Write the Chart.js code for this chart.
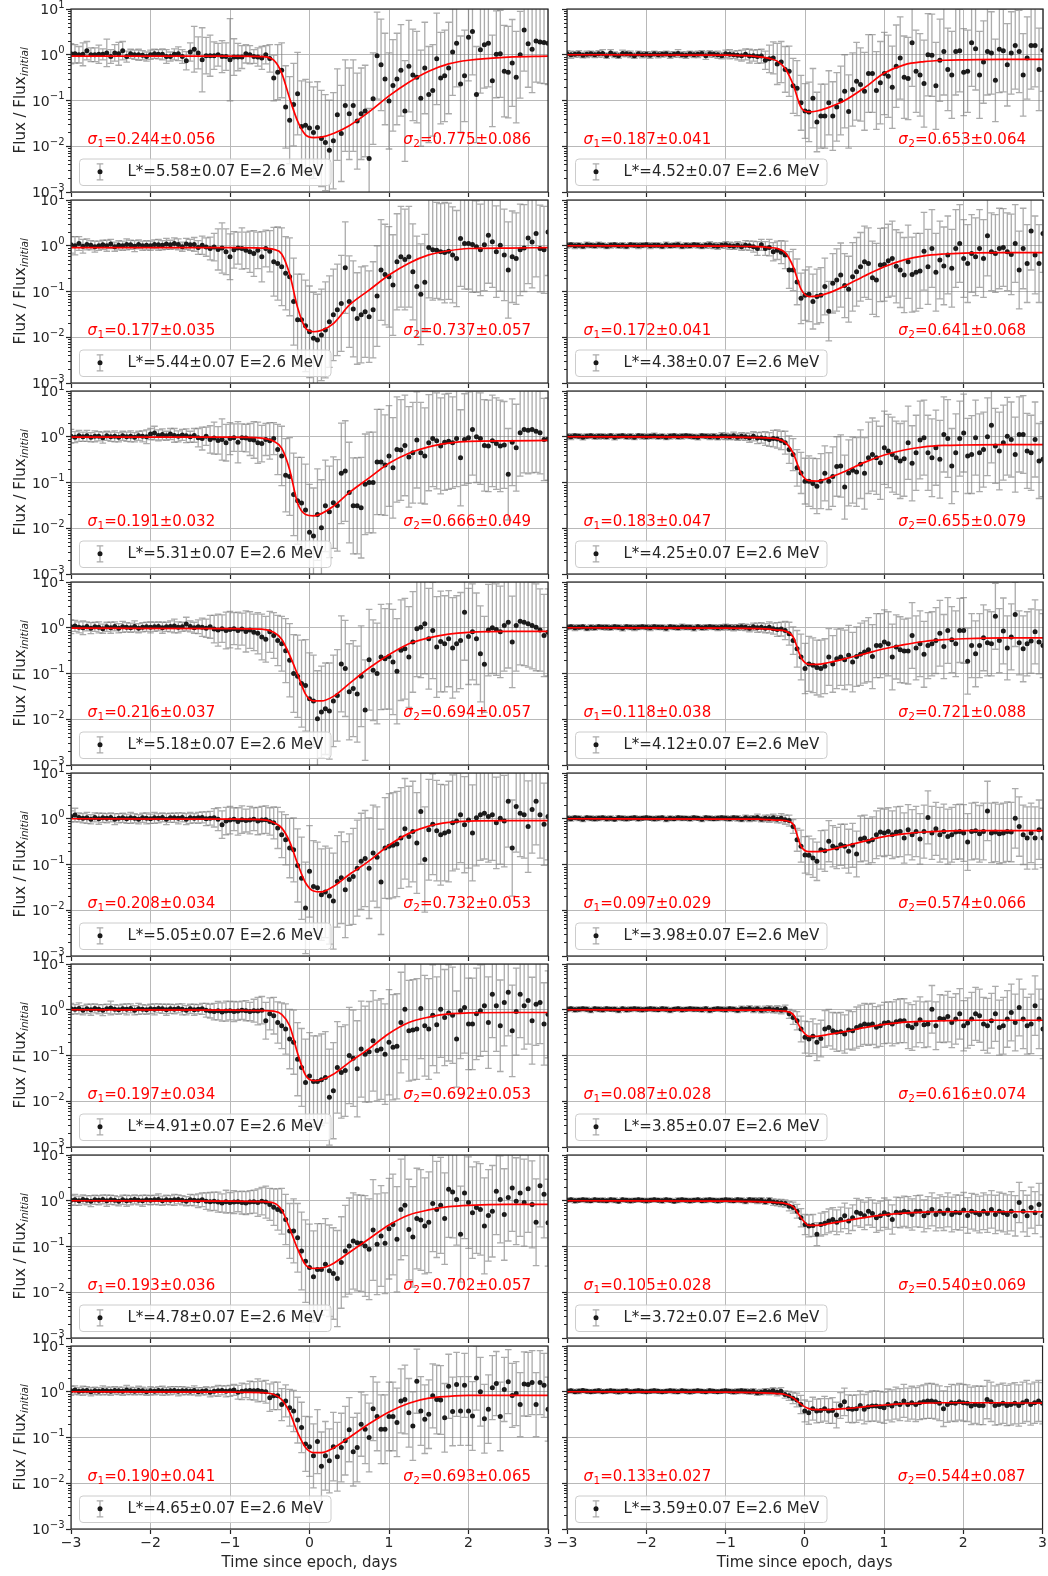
<!DOCTYPE html>
<html lang="en">
<head>
<meta charset="utf-8">
<title>Electron flux dropouts, 2.6 MeV, by L*</title>
<script src="https://cdn.jsdelivr.net/npm/chart.js@4.4.1/dist/chart.umd.min.js"></script>
<style>
  html, body { margin: 0; padding: 0; background: #fff; }
  body { width: 1048px; height: 1576px; position: relative; overflow: hidden; }
  canvas { position: absolute; }
</style>
</head>
<body>
<script>
// ---- sample times (days since epoch, 0.05-day cadence) ----
const days = [
  -3,-2.95,-2.9,-2.85,-2.8,-2.75,-2.7,-2.65,-2.6,-2.55,-2.5,-2.45,-2.4,-2.35,-2.3,-2.25,-2.2,-2.15,-2.1,-2.05,
  -2,-1.95,-1.9,-1.85,-1.8,-1.75,-1.7,-1.65,-1.6,-1.55,-1.5,-1.45,-1.4,-1.35,-1.3,-1.25,-1.2,-1.15,-1.1,-1.05,
  -1,-0.95,-0.9,-0.85,-0.8,-0.75,-0.7,-0.65,-0.6,-0.55,-0.5,-0.45,-0.4,-0.35,-0.3,-0.25,-0.2,-0.15,-0.1,-0.05,
  0,0.05,0.1,0.15,0.2,0.25,0.3,0.35,0.4,0.45,0.5,0.55,0.6,0.65,0.7,0.75,0.8,0.85,0.9,0.95,
  1,1.05,1.1,1.15,1.2,1.25,1.3,1.35,1.4,1.45,1.5,1.55,1.6,1.65,1.7,1.75,1.8,1.85,1.9,1.95,
  2,2.05,2.1,2.15,2.2,2.25,2.3,2.35,2.4,2.45,2.5,2.55,2.6,2.65,2.7,2.75,2.8,2.85,2.9,2.95,
  3];

// times at which each fitted profile is tabulated
const fitDays = [-3,-1,-0.6,-0.45,-0.35,-0.25,-0.15,-0.05,0.05,0.15,0.3,0.5,0.75,1,1.25,1.5,1.75,2,2.5,3];

// panel labels: left column first (top to bottom), then right column
const lstar = ['5.58','5.44','5.31','5.18','5.05','4.91','4.78','4.65','4.52','4.38','4.25','4.12','3.98','3.85','3.72','3.59'];
const sigma1 = ['0.244±0.056','0.177±0.035','0.191±0.032','0.216±0.037','0.208±0.034','0.197±0.034','0.193±0.036','0.190±0.041',
                '0.187±0.041','0.172±0.041','0.183±0.047','0.118±0.038','0.097±0.029','0.087±0.028','0.105±0.028','0.133±0.027'];
const sigma2 = ['0.775±0.086','0.737±0.057','0.666±0.049','0.694±0.057','0.732±0.053','0.692±0.053','0.702±0.057','0.693±0.065',
                '0.653±0.064','0.641±0.068','0.655±0.079','0.721±0.088','0.574±0.066','0.616±0.074','0.540±0.069','0.544±0.087'];

// ---- log10(flux / initial flux), log10 error half-width, log10 of fitted profile ----
// L* = 5.58
const lg558 = [
  .02,.02,0,.01,.09,0,0,.01,.01,.04,-.04,.04,.02,.09,-.04,.02,0,0,-.01,-.04,
  0,.02,.01,.01,-.04,-.04,.01,.02,-.04,-.13,.06,.12,.04,-.11,-.02,-.02,-.02,0,-.04,-.04,
  -.11,-.05,-.05,-.05,.02,0,-.04,-.05,-.07,0,-.08,-.51,-.38,-.34,-1.14,-1.43,-1.09,-.85,-1.57,-1.54,
  -1.6,-1.7,-1.59,-1.83,-1.92,-2.09,-1.88,-1.31,-1.72,-1.11,-1.29,-1.11,-1.45,-1.29,-1.23,-2.27,-.96,-.02,-.22,-.53,
  -1.01,-.67,-.53,-.34,-1.23,-.25,-.44,-.49,-.95,-.29,-.87,-.78,-.09,-.51,-.46,-.29,.06,.25,-.64,-.46,
  .38,.51,-.87,.11,.22,.25,-.57,.01,.02,-.36,-.38,-.18,-.49,0,.54,.24,.12,.3,.28,.27,
  .25];
const er558 = [
  .22,.2,.18,.25,.2,.15,.15,.2,.12,.3,.15,.18,.25,.2,.12,.1,.1,.12,.1,.1,
  .1,.1,.1,.12,.15,.1,.12,.15,.15,.2,.2,.5,.35,.7,.4,.45,.3,.25,.35,.3,
  .9,.4,.3,.25,.2,.2,.15,.2,.25,.2,.3,.5,.6,.6,.9,.95,.9,.9,1,1,
  1,1,1,1.05,1.05,1.1,1.05,1,1.05,1,1,1,1.05,1,1,1.1,1,.95,1,1,
  1.05,1,1,1,1.1,1,1,1,1.05,1,1.05,1,1,1,1,1,.95,.95,1.05,1,
  .95,.95,1.05,.95,.95,.95,1,.95,.95,1,1,.95,1,.95,.9,.95,.95,.9,.9,.9,
  .9];
const fit558 = [-.03,-.03,-.04,-.12,-.4,-.95,-1.45,-1.75,-1.81,-1.8,-1.72,-1.55,-1.25,-.9,-.6,-.36,-.2,-.12,-.05,-.03];

// L* = 5.44
const lg544 = [
  .02,0,.05,-.01,.03,.01,-.02,0,.02,0,.04,-.02,.01,0,.03,.02,-.01,.03,0,.01,
  0,.03,.02,.01,.04,.02,.05,.03,-.02,.04,.02,.03,-.04,.01,-.03,-.06,-.03,-.08,-.05,-.13,
  -.24,-.09,-.05,-.06,-.1,-.13,-.17,-.1,-.24,-.06,-.12,-.35,-.39,-.46,-.6,-.68,-1.22,-1.62,-1.62,-1.75,
  -1.88,-2.02,-2.06,-1.95,-1.84,-1.66,-1.51,-1.4,-1.26,-.48,-1.22,-1.38,-1.59,-1.51,-1.44,-1.55,-1.4,-1.1,-.53,-.63,
  -.68,-.86,-.35,-.24,-.3,-.24,-.57,-.89,-1.06,-.8,-.04,-.09,-.1,-.13,-.15,-.12,-.2,-.28,.16,.05,
  .05,.03,-.02,-.09,.02,.23,.09,-.13,.01,-.2,-.53,-.24,-.28,-.09,-.05,.17,.08,.27,-.06,-.09,
  .3];
const er544 = [
  .18,.2,.15,.15,.12,.1,.12,.1,.1,.12,.1,.1,.1,.1,.12,.1,.12,.1,.1,.1,
  .1,.1,.12,.1,.12,.1,.12,.12,.1,.12,.12,.15,.15,.2,.2,.25,.3,.45,.55,.5,
  .5,.4,.35,.45,.4,.45,.5,.4,.55,.4,.45,.75,.8,.85,.8,.85,.95,1,1,1,
  1,1,1,1,1.05,1,1,1,1.05,1,1,1.05,1,1.05,1,1,1.05,1.1,1.1,1.1,
  1.1,1.1,1.05,1.1,1.1,1.1,1.05,1.1,1.1,1.05,1.1,1.1,1.05,1.05,1.1,1.05,1.05,1.05,1.05,1,
  1,1.05,1,1,1,1.05,1,1,1,1,1.05,1,1,1,.95,1,1,.95,.95,.95,
  .95];
const fit544 = [-.04,-.04,-.05,-.08,-.18,-.62,-1.35,-1.8,-1.88,-1.85,-1.7,-1.3,-.97,-.64,-.38,-.2,-.11,-.06,-.05,-.04];

// L* = 5.31
const lg531 = [
  .01,-.01,.02,0,.02,-.01,.01,.01,-.02,.02,0,.01,-.01,.02,0,.01,-.01,.02,.01,0,
  .06,.08,.03,.05,.02,.06,.03,.01,.04,.02,0,.03,-.02,-.04,.01,-.06,-.03,-.08,-.06,-.13,
  -.04,-.02,-.12,-.02,-.03,-.06,-.07,-.13,-.15,-.06,-.09,-.04,-.28,-.42,-.84,-.87,-1.26,-1.4,-1.45,-1.6,
  -2.09,-2.17,-1.7,-1.99,-1.51,-1.64,-1.44,-1.5,-.8,-.75,-1.22,-1.51,-1.51,-1.55,-1.04,-1,-1,-.55,-.55,-.62,
  -.42,-.68,-.28,-.29,-.19,-.44,-.35,-.07,-.35,-.42,-.13,-.04,-.09,-.2,-.12,-.1,-.13,-.04,-.46,-.06,
  -.02,.16,0,-.04,-.19,-.2,-.09,-.15,-.2,-.18,-.82,-.12,-.24,.09,.16,.14,.16,.12,.09,-.06,
  -.05];
const er531 = [
  .15,.12,.12,.1,.12,.1,.12,.1,.12,.1,.1,.12,.1,.1,.1,.12,.1,.1,.12,.15,
  .12,.15,.12,.12,.1,.12,.15,.12,.12,.15,.12,.15,.2,.25,.2,.3,.35,.3,.45,.4,
  .35,.3,.45,.3,.3,.35,.4,.45,.4,.35,.4,.35,.55,.65,.8,.85,.9,.95,1,1,
  1.05,1.05,1,1.05,1,1,1,1,1.1,1.1,1.1,1.05,1.05,1.1,1.1,1.1,1.1,1.15,1.15,1.1,
  1.1,1.1,1.15,1.1,1.1,1.1,1.1,1.05,1.1,1.05,1.05,1.05,1.05,1.05,1.05,1.05,1,1.05,1.05,1,
  1,1,1,1,1,1,1,1,1,.95,1,.95,.95,.95,.95,.95,.95,.9,.9,.9,
  .9];
const fit531 = [-.01,-.01,-.03,-.1,-.25,-.72,-1.45,-1.7,-1.73,-1.68,-1.52,-1.22,-.9,-.58,-.36,-.22,-.14,-.1,-.09,-.08];

// L* = 5.18
const lg518 = [
  .02,.04,.01,0,.03,-.01,.02,.01,-.02,.02,0,.03,-.01,.02,.01,0,.03,-.01,.01,.02,
  .01,.02,.03,0,.02,.03,.04,.01,.02,.08,.03,0,.02,.01,-.01,.02,-.03,-.05,-.02,-.06,
  -.04,-.02,-.06,-.03,-.08,-.05,-.1,-.12,-.2,-.25,-.09,-.17,-.28,-.35,-.5,-.71,-1,-1.06,-1.22,-1.26,
  -1.55,-1.6,-1.99,-1.84,-1.77,-1.82,-1.6,-1.48,-.79,-.89,-1.4,-1.33,-1.45,-1.06,-1.8,-.7,-.93,-1,-.64,-.68,
  -.63,-.75,-.95,-.49,-.46,-.64,-.31,-.02,.01,.09,-.24,-.06,-.42,-.3,-.35,-.24,-.44,-.35,-.28,.34,
  -.19,-.09,-.24,-.57,-.8,-.05,0,-.04,-.09,.05,.12,-.31,.05,.14,.12,.09,.05,.01,-.05,-.17,
  -.1];
const er518 = [
  .15,.12,.12,.15,.1,.12,.1,.12,.1,.1,.12,.1,.1,.12,.1,.1,.12,.1,.1,.1,
  .12,.1,.1,.12,.1,.12,.15,.12,.1,.15,.12,.12,.15,.2,.2,.25,.3,.35,.3,.4,
  .4,.35,.4,.35,.45,.4,.4,.45,.5,.5,.45,.5,.55,.6,.7,.8,.85,.9,.95,1,
  1,1,1.05,1,1,1.05,1,1,1.05,1.05,1.05,1.05,1.05,1.1,1.1,1.1,1.1,1.1,1.15,1.1,
  1.15,1.15,1.15,1.1,1.1,1.1,1.1,1.05,1.1,1.1,1.1,1.05,1.1,1.1,1.05,1.05,1.1,1.05,1.05,1.05,
  1.05,1.05,1,1.05,1.05,1,1,1,1,1,1,1,1,.95,.95,.95,.95,.95,.9,.9,
  .95];
const fit518 = [-.01,-.02,-.03,-.1,-.25,-.6,-1.02,-1.45,-1.6,-1.6,-1.5,-1.22,-.88,-.59,-.35,-.22,-.14,-.1,-.08,-.08];

// L* = 5.05
const lg505 = [
  .05,.08,.03,.01,.02,-.01,.03,0,.02,.01,.03,-.01,.01,.02,0,.02,.01,-.01,.02,.01,
  0,.02,.01,.03,-.01,.02,.02,.01,.03,-.01,.02,.01,.02,.03,0,.01,.02,-.01,-.13,-.05,
  -.03,-.01,-.06,-.02,-.04,-.03,-.01,-.05,-.03,-.02,-.06,-.09,-.2,-.35,-.46,-.64,-.68,-1.02,-1.3,-1.95,
  -1.15,-1.48,-1.51,-1.66,-1.6,-1.69,-1.8,-1.37,-1.29,-1.55,-1.33,-1.26,-1.08,-.93,-.87,-1.08,-.75,-.84,-1.38,-.64,
  -.6,-.58,-.55,-.42,-.22,-.39,-.28,-.53,.16,-.89,-.24,-.12,-.26,-.35,-.31,-.28,-.09,-.05,.09,-.13,
  -.03,-.31,.02,.09,.12,.05,.09,-.09,.01,-.05,.38,-.64,.27,.12,.09,-.17,.2,.38,.09,-.12,
  .05];
const er505 = [
  .12,.15,.1,.1,.12,.1,.1,.12,.1,.1,.1,.12,.1,.1,.1,.12,.1,.1,.1,.12,
  .1,.12,.1,.1,.12,.1,.1,.12,.1,.12,.12,.1,.12,.12,.15,.15,.2,.25,.3,.3,
  .3,.25,.3,.3,.25,.3,.25,.3,.3,.3,.3,.35,.45,.5,.55,.65,.7,.8,.9,1,
  1,1,1,1,1,1.05,1.05,1,1,1.05,1,1.05,1.05,1.05,1.05,1.1,1.05,1.1,1.15,1.1,
  1.15,1.15,1.15,1.1,1.1,1.1,1.1,1.1,1.15,1.15,1.1,1.1,1.1,1.1,1.05,1.1,1.05,1.05,1.05,1.05,
  1.05,1.05,1.05,1,1,1,1,1,1,1,1,1.05,1,.95,.95,1,.95,.95,.95,.9,
  .95];
const fit505 = [0,-.01,-.02,-.08,-.2,-.5,-.98,-1.4,-1.58,-1.6,-1.48,-1.22,-.92,-.58,-.32,-.16,-.08,-.05,-.04,-.04];

// L* = 4.91
const lg491 = [
  .02,.01,.03,-.01,.02,0,.03,.01,-.01,.02,.04,.01,0,.02,.01,.03,-.01,.02,.01,0,
  .02,.01,.03,.02,0,.02,.01,.03,.01,-.01,.02,0,.01,.02,-.01,-.03,-.04,-.02,-.05,-.03,
  -.02,-.04,-.03,-.01,-.02,-.04,-.02,-.03,-.01,-.24,-.09,-.13,-.28,-.35,-.42,-.64,-.71,-1.08,-1.26,-1.59,
  -1.45,-1.57,-1.57,-1.53,-1.48,-1.91,-1.77,-1.26,-1.37,-1.33,-1,-1.06,-1.29,-.86,-.97,-.92,-.68,-.89,-.86,-.97,
  -.71,-.82,-.8,-.28,.01,-.46,-.44,-.42,.03,-.35,-.42,-.12,-.33,.01,-.17,-.07,-.12,-.64,-.02,.05,
  -.31,-.31,-.09,-.02,.09,-.28,.34,.09,-.35,.16,.38,-.46,-.04,.34,.09,.2,-.24,.12,.16,-.31,
  -.1];
const er491 = [
  .12,.1,.12,.1,.1,.12,.1,.1,.12,.1,.15,.1,.1,.1,.12,.1,.1,.12,.1,.1,
  .1,.12,.1,.1,.12,.1,.1,.1,.12,.1,.1,.12,.1,.12,.15,.15,.18,.2,.2,.22,
  .2,.22,.2,.2,.22,.2,.25,.3,.3,.4,.35,.4,.45,.5,.55,.65,.7,.8,.85,.95,
  .95,1,1,1,1,1.05,1.05,1,1,1,1.05,1.05,1.05,1.05,1.05,1.1,1.1,1.1,1.1,1.1,
  1.15,1.15,1.15,1.1,1.1,1.1,1.1,1.1,1.1,1.1,1.1,1.1,1.05,1.05,1.05,1.05,1.05,1.05,1.05,1,
  1,1,1,1,1,1,.95,1,1,.95,.95,1,.95,.95,.95,.95,.95,.9,.9,.9,
  .95];
const fit491 = [0,-.01,-.02,-.03,-.1,-.35,-.95,-1.43,-1.55,-1.53,-1.41,-1.15,-.85,-.52,-.28,-.16,-.09,-.07,-.06,-.06];

// L* = 4.78
const lg478 = [
  .01,.02,0,.03,.01,-.01,.02,.01,.03,0,.02,.01,-.01,.02,0,.01,.03,.01,0,.02,
  .01,.02,.03,0,.02,.01,.02,.03,.01,-.01,.02,.01,0,.02,-.01,-.02,-.01,-.03,-.05,-.02,
  -.04,-.03,-.02,-.04,-.05,-.03,-.02,-.04,-.01,-.03,-.08,-.14,-.19,-.23,-.41,-.66,-.66,-.81,-1.1,-1.32,
  -1.46,-1.66,-1.5,-1.5,-1.39,-1.53,-1.59,-1.7,-1.35,-1.1,-.99,-.88,-.92,-.93,-.99,-1.06,-.64,-.95,-.77,-.93,
  -.61,-.52,-.84,-.19,-.1,-.63,-.79,-.39,-.42,-.55,-.47,-.06,-.19,-.1,-.39,.25,.19,.03,-.73,.17,
  -.04,-.26,-.15,-.19,-.55,-.32,-.23,.21,.03,-.3,.07,.28,-.01,.17,-.04,.26,-.08,-.47,.33,.14,
  -.48];
const er478 = [
  .1,.12,.1,.1,.1,.12,.1,.1,.1,.12,.1,.1,.1,.1,.12,.1,.1,.1,.12,.1,
  .1,.1,.12,.1,.1,.1,.12,.1,.1,.1,.12,.12,.15,.15,.18,.2,.2,.22,.2,.25,
  .22,.25,.22,.25,.25,.25,.25,.3,.3,.35,.35,.4,.45,.5,.55,.6,.7,.75,.85,.9,
  .95,1,1,1,1,1,1,1.05,1,1,1.05,1.05,1.05,1.05,1.1,1.1,1.1,1.1,1.1,1.1,
  1.1,1.1,1.15,1.1,1.1,1.1,1.1,1.1,1.1,1.05,1.1,1.05,1.05,1.05,1,1.05,1,1,1.05,1,
  1,1,1,1,1.05,1,1,.95,.95,1,.95,.95,.95,.95,.95,.95,.95,.95,.9,.95,
  .95];
const fit478 = [0,-.01,-.02,-.05,-.2,-.6,-1.05,-1.4,-1.48,-1.47,-1.37,-1.13,-.83,-.53,-.31,-.2,-.13,-.1,-.08,-.08];

// L* = 4.65
const lg465 = [
  .02,.04,.01,.02,.03,0,.02,.01,.03,.02,.01,.03,.02,.01,.04,.02,.01,.03,.02,0,
  .02,.01,.03,.02,.01,.02,.03,.01,.02,.02,.01,.03,0,.01,.02,-.01,.01,.02,.03,.01,
  .02,.04,-.01,.01,.02,.03,.02,.03,.01,0,-.13,-.09,-.09,-.28,-.2,-.35,-.42,-.62,-.78,-1.14,
  -1.2,-1.4,-1.09,-1.63,-1.4,-1.51,-1.2,-1.42,-1.22,-1.07,-.83,-1.31,-1.22,-.71,-.82,-1,-.37,-.54,-.82,-.82,
  -.54,-.54,-.67,-.2,-.17,-.46,-.75,.23,-.42,-.6,-.49,-.09,-.17,-.18,-.57,.12,-.43,.16,-.42,.14,
  -.42,-.53,.3,0,-.59,-.38,.09,.18,-.54,.05,.22,-.08,-.04,-.28,.17,.16,.2,-.28,.2,.14,
  -.38];
const er465 = [
  .1,.09,.08,.1,.08,.09,.08,.08,.1,.08,.09,.08,.08,.09,.1,.08,.08,.09,.08,.08,
  .09,.08,.08,.1,.08,.09,.08,.1,.09,.08,.08,.1,.09,.08,.09,.1,.1,.12,.1,.12,
  .12,.12,.15,.18,.15,.2,.2,.25,.22,.25,.3,.3,.3,.35,.35,.4,.45,.5,.55,.6,
  .65,.7,.7,.75,.75,.7,.75,.75,.75,.75,.7,.75,.75,.7,.75,.75,.7,.75,.75,.75,
  .75,.75,.75,.7,.75,.75,.75,.7,.75,.75,.75,.7,.75,.75,.75,.7,.75,.7,.75,.7,
  .75,.75,.7,.75,.75,.75,.7,.7,.75,.7,.7,.7,.7,.7,.7,.7,.7,.7,.7,.7,
  .7];
const fit465 = [0,-.01,-.02,-.06,-.17,-.45,-.89,-1.22,-1.33,-1.33,-1.23,-1,-.7,-.44,-.25,-.14,-.1,-.08,-.08,-.08];

// L* = 4.52
const lg452 = [
  .02,0,.01,.02,-.01,.01,.02,0,.02,.03,-.02,.04,0,-.02,.03,.02,.01,-.02,.02,0,
  .01,-.01,.02,0,.01,.02,-.01,.01,.03,0,-.01,.02,0,.01,.03,-.02,.02,.01,0,-.02,
  .02,.01,0,-.01,-.02,.01,-.03,-.02,-.04,-.03,-.12,-.09,-.07,-.2,-.16,-.32,-.36,-.68,-.73,-1.05,
  -1.23,-1.25,-.95,-1.47,-1.34,-1.34,-1.05,-1.34,-1.14,-1,-.8,-1.24,-.76,-.58,-.65,-.8,-.41,-.41,-.78,-.61,
  -.41,-.47,-.71,-.25,-.07,-.49,-.52,.26,-.36,-.44,-.63,0,-.01,-.68,-.12,.07,-.32,-.44,.07,.09,
  -.38,-.36,.26,.13,-.44,-.16,.07,.04,-.56,.12,.09,-.22,.04,.2,.07,-.44,-.07,.2,.2,-.32,
  .1];
const er452 = [
  .07,.08,.06,.07,.06,.07,.06,.06,.07,.08,.06,.07,.06,.06,.07,.06,.07,.06,.06,.07,
  .06,.07,.06,.07,.06,.06,.07,.06,.08,.06,.07,.06,.06,.07,.06,.08,.07,.06,.08,.07,
  .08,.1,.08,.1,.12,.12,.15,.12,.15,.15,.2,.3,.35,.45,.45,.5,.55,.6,.6,.6,
  .6,.65,.65,.65,.7,.7,.7,.75,.75,.75,.8,.8,.8,.85,.8,.85,.85,.85,.85,.9,
  .9,.9,.9,.9,.9,.9,.9,.95,.9,.9,.95,.9,.9,.95,.9,.95,.9,.95,.95,.9,
  .95,.9,.95,.9,.95,.9,.95,.9,.9,.95,.9,.9,.9,.95,.9,.9,.9,.95,.9,.9,
  .9];
const fit452 = [0,-.01,-.04,-.08,-.14,-.3,-.65,-1.15,-1.25,-1.23,-1.15,-1,-.72,-.4,-.22,-.15,-.12,-.11,-.1,-.1];

// L* = 4.38
const lg438 = [
  .01,.02,0,.01,-.01,.02,.01,0,.02,.01,-.01,.01,.02,0,.01,-.01,.02,.01,0,.01,
  .02,0,.01,.01,-.01,.02,0,.01,.02,-.01,.01,0,.02,.01,-.01,.01,.02,0,-.01,.01,
  .02,0,-.01,.01,-.02,.01,0,-.02,-.06,.02,-.06,-.04,-.13,-.1,-.14,-.2,-.53,-.53,-.79,-1.15,
  -1.08,-1.06,-1.22,-1.11,-1.08,-.89,-1.43,-.82,-.75,-.64,-.87,-.95,-.68,-.57,-.46,-.35,-.39,-.7,-.75,-.42,
  -.41,-.33,-.28,-.45,-.53,-.64,-.35,-.63,-.58,-.55,-.12,-.46,-.06,-.58,-.31,-.44,-.2,-.49,-.06,.05,
  -.28,-.39,-.17,-.24,-.06,-.28,.22,-.13,-.17,-.06,-.04,-.13,-.19,.05,-.53,-.06,-.39,.32,-.2,-.39,
  .27];
const er438 = [
  .06,.05,.06,.05,.05,.06,.05,.05,.06,.05,.05,.06,.05,.05,.06,.05,.05,.05,.06,.05,
  .05,.06,.05,.05,.05,.06,.05,.05,.06,.05,.06,.05,.05,.06,.05,.06,.07,.06,.07,.06,
  .07,.08,.07,.08,.08,.1,.1,.12,.15,.12,.15,.18,.2,.2,.25,.3,.4,.45,.5,.55,
  .55,.6,.6,.6,.6,.62,.65,.65,.68,.7,.7,.72,.75,.75,.75,.78,.78,.8,.8,.8,
  .8,.8,.82,.8,.82,.82,.8,.82,.85,.82,.85,.82,.85,.85,.85,.85,.85,.85,.85,.85,
  .85,.85,.85,.85,.85,.85,.88,.85,.85,.88,.85,.85,.88,.85,.85,.88,.85,.85,.85,.85,
  .85];
const fit438 = [0,-.01,-.02,-.04,-.06,-.15,-.45,-.95,-1.11,-1.1,-1.03,-.88,-.66,-.46,-.31,-.22,-.18,-.16,-.15,-.15];

// L* = 4.25
const lg425 = [
  .01,0,.02,.01,-.01,.01,.02,0,.01,.01,0,.02,-.01,.01,.02,0,.01,-.01,.02,.01,
  0,.01,.02,0,.01,-.01,.01,.02,0,.01,.02,.01,0,-.01,.02,.01,0,.01,-.01,.02,
  .01,0,.02,-.01,.01,0,-.02,.01,-.03,-.02,-.04,-.06,-.04,-.05,-.08,-.13,-.28,-.39,-.68,-.79,
  -.97,-.97,-1.02,-1.08,-.97,-.8,-.97,-.87,-.65,-.64,-1.1,-.79,-.73,-.77,-.6,-.8,-.46,-.39,-.46,-.57,
  -.24,-.31,-.39,-.46,-.53,-.48,-.13,-.58,-.35,-.07,-.02,-.35,-.46,-.24,-.49,.05,-.04,-.64,-.35,-.04,
  .08,-.42,-.39,-.02,-.35,-.28,0,.25,-.2,-.31,-.13,.01,-.06,-.39,.05,.05,-.31,-.35,-.06,-.53,
  -.49];
const er425 = [
  .05,.06,.05,.05,.06,.05,.05,.05,.06,.05,.05,.05,.06,.05,.05,.05,.06,.05,.05,.06,
  .05,.05,.06,.05,.05,.05,.06,.05,.05,.06,.05,.05,.05,.06,.05,.05,.06,.06,.06,.07,
  .07,.06,.08,.07,.08,.08,.1,.1,.12,.12,.15,.15,.18,.2,.2,.25,.3,.35,.4,.45,
  .5,.55,.55,.6,.6,.6,.62,.65,.65,.68,.7,.72,.72,.75,.75,.78,.78,.8,.8,.8,
  .8,.8,.82,.8,.82,.82,.8,.82,.82,.85,.82,.82,.85,.82,.85,.82,.85,.82,.85,.82,
  .85,.82,.85,.82,.85,.82,.85,.82,.82,.85,.82,.85,.82,.82,.82,.85,.82,.82,.82,.82,
  .82];
const fit425 = [0,-.01,-.02,-.03,-.05,-.12,-.35,-.8,-.96,-.97,-.9,-.76,-.56,-.4,-.29,-.22,-.19,-.18,-.17,-.17];

// L* = 4.12
const lg412 = [
  .01,.02,0,.01,.02,-.01,.01,0,.02,.01,.01,0,.02,.01,-.01,.02,.01,0,.01,.02,
  .01,0,.02,.01,.01,-.01,.02,.01,0,.02,.01,.01,-.01,.02,0,.01,.02,.01,0,.01,
  .02,.01,0,.01,.02,.01,-.01,.02,0,.01,-.01,.01,-.02,-.04,-.03,-.06,-.13,-.28,-.46,-.64,
  -.89,-.79,-.82,-.87,-.89,-.84,-.64,-.79,-.68,-.64,-.7,-.6,-.75,-.63,-.58,-.53,-.48,-.63,-.39,-.39,
  -.31,-.35,-.64,-.42,-.48,-.51,-.51,-.17,-.44,-.35,-.58,-.39,-.35,-.28,-.12,-.41,-.06,-.26,-.35,-.06,
  -.06,-.73,-.39,-.57,-.39,-.22,-.33,-.35,.25,-.28,-.07,-.44,-.2,.29,-.33,-.46,-.35,-.29,-.09,-.31,
  -.39];
const er412 = [
  .05,.05,.06,.05,.05,.05,.06,.05,.05,.05,.06,.05,.05,.05,.06,.05,.05,.06,.05,.05,
  .05,.06,.05,.05,.05,.06,.05,.05,.05,.06,.05,.05,.06,.05,.05,.06,.05,.05,.06,.06,
  .06,.06,.07,.06,.07,.07,.08,.08,.1,.1,.1,.12,.12,.15,.15,.2,.25,.3,.4,.5,
  .55,.6,.6,.6,.62,.6,.62,.62,.65,.62,.65,.65,.65,.65,.68,.68,.7,.7,.7,.7,
  .7,.7,.72,.7,.72,.7,.72,.72,.7,.72,.72,.72,.7,.72,.72,.7,.72,.72,.72,.7,
  .72,.72,.7,.72,.7,.72,.72,.7,.72,.7,.72,.7,.72,.7,.7,.72,.7,.7,.7,.7,
  .7];
const fit412 = [0,-.01,-.02,-.03,-.05,-.07,-.2,-.65,-.8,-.8,-.76,-.68,-.57,-.46,-.37,-.3,-.26,-.24,-.22,-.22];

// L* = 3.98
const lg398 = [
  .01,0,.02,.01,-.01,.02,.01,0,.01,.02,0,.01,-.01,.02,.01,0,.01,.02,0,.01,
  .02,.01,0,.01,.02,-.01,.01,0,.02,.01,.01,0,.02,.01,-.01,.02,.01,0,.01,.02,
  .01,0,.02,.01,-.01,.02,0,.01,.03,-.01,.01,0,.02,-.01,.01,-.02,-.04,-.17,-.46,-.6,
  -.79,-.8,-.86,-.93,-.68,-.7,-.49,-.6,-.64,-.57,-.6,-.71,-.58,-.77,-.44,-.42,-.49,-.46,-.35,-.29,
  -.31,-.28,-.35,-.29,-.28,-.42,-.24,-.35,-.28,-.44,-.28,.03,-.31,-.22,-.35,-.28,-.39,-.35,-.29,-.28,
  -.31,-.51,-.28,-.26,-.33,-.28,.17,-.31,-.29,-.33,-.31,-.28,-.29,.01,-.17,-.35,-.42,-.31,-.42,-.24,
  -.42];
const er398 = [
  .05,.05,.04,.05,.05,.04,.05,.05,.05,.04,.05,.05,.04,.05,.05,.05,.04,.05,.05,.04,
  .05,.04,.05,.05,.04,.05,.05,.04,.05,.05,.04,.05,.05,.04,.05,.05,.05,.04,.05,.05,
  .05,.05,.05,.06,.05,.06,.06,.06,.07,.06,.07,.08,.08,.08,.1,.1,.12,.15,.25,.35,
  .4,.42,.42,.42,.42,.45,.45,.45,.45,.45,.48,.48,.48,.5,.5,.5,.5,.5,.52,.52,
  .52,.52,.52,.55,.55,.55,.55,.55,.55,.55,.58,.58,.58,.58,.6,.6,.6,.6,.6,.6,
  .62,.62,.62,.62,.62,.62,.65,.65,.65,.65,.65,.65,.65,.65,.65,.65,.68,.65,.68,.65,
  .65];
const fit398 = [0,-.01,-.01,-.02,-.03,-.04,-.12,-.6,-.72,-.72,-.68,-.6,-.49,-.39,-.33,-.29,-.27,-.26,-.26,-.26];

// L* = 3.85
const lg385 = [
  .01,.02,0,.01,.02,.01,-.01,.02,.01,0,.02,.01,.01,-.01,.02,0,.01,.02,.01,0,
  .01,.02,.01,0,.02,.01,-.01,.01,.02,0,.01,.02,.01,.01,0,.02,-.01,.01,.02,.01,
  0,.02,.01,-.01,.02,.01,.03,0,.02,-.01,.01,.02,0,.01,-.01,.02,-.09,-.17,-.24,-.42,
  -.6,-.64,-.58,-.71,-.63,-.42,-.39,-.46,-.49,-.48,-.53,-.44,-.46,-.39,-.35,-.31,-.33,-.31,-.38,-.35,
  -.29,-.28,-.31,-.26,-.24,-.24,-.35,-.39,-.31,-.22,-.33,-.31,.01,-.35,-.19,-.2,-.15,-.28,-.2,-.09,
  -.35,-.29,-.2,-.09,-.13,-.31,-.35,-.24,-.09,-.39,-.35,-.2,-.06,-.28,.05,-.2,-.35,-.31,.09,-.2,
  -.42];
const er385 = [
  .05,.04,.05,.05,.04,.05,.05,.04,.05,.05,.05,.04,.05,.05,.04,.05,.05,.04,.05,.05,
  .04,.05,.05,.04,.05,.05,.05,.04,.05,.05,.04,.05,.05,.04,.05,.05,.05,.04,.05,.05,
  .05,.05,.05,.05,.06,.05,.06,.06,.06,.06,.07,.07,.07,.08,.08,.08,.1,.15,.2,.28,
  .35,.38,.38,.4,.4,.4,.4,.4,.42,.42,.42,.42,.42,.45,.45,.45,.45,.45,.45,.45,
  .45,.45,.48,.48,.48,.48,.5,.5,.5,.5,.5,.5,.52,.52,.52,.52,.55,.55,.55,.55,
  .55,.55,.58,.58,.58,.58,.6,.6,.6,.6,.62,.62,.62,.62,.62,.65,.62,.65,.65,.65,
  .65];
const fit385 = [0,-.01,-.01,-.01,-.02,-.03,-.1,-.42,-.58,-.58,-.54,-.48,-.39,-.32,-.27,-.25,-.24,-.23,-.23,-.23];

// L* = 3.72
const lg372 = [
  .01,.02,0,.01,.02,.01,0,.02,.01,.01,0,.02,.01,-.01,.02,.01,0,.01,.02,.01,
  0,.01,.02,.01,0,.02,.01,-.01,.01,.02,.01,0,.01,.02,0,.01,.02,.01,0,.01,
  .02,.01,0,.02,.01,-.01,.02,.01,0,.01,-.02,.01,-.03,-.04,-.05,-.06,-.12,-.15,-.23,-.37,
  -.52,-.55,-.54,-.73,-.52,-.49,-.44,-.41,-.47,-.41,-.33,-.44,-.37,-.25,-.28,-.33,-.23,-.28,-.37,-.33,
  -.26,-.3,-.41,-.25,-.26,-.23,-.25,-.3,-.23,-.23,-.33,-.26,-.19,-.3,-.23,-.28,-.2,-.3,-.25,-.26,
  -.2,-.32,-.23,-.26,-.3,-.23,-.28,-.19,-.3,-.23,-.26,-.3,-.23,-.33,-.04,-.23,-.33,-.15,-.26,-.08,
  -.33];
const er372 = [
  .04,.04,.05,.04,.04,.05,.04,.04,.04,.05,.04,.04,.05,.04,.04,.04,.05,.04,.04,.04,
  .05,.04,.04,.04,.05,.04,.04,.04,.05,.04,.04,.05,.04,.04,.04,.05,.04,.04,.05,.04,
  .04,.05,.04,.05,.05,.05,.05,.05,.06,.06,.06,.06,.07,.07,.08,.08,.1,.12,.15,.2,
  .22,.24,.24,.25,.25,.25,.26,.26,.27,.27,.28,.28,.28,.3,.3,.3,.3,.3,.32,.32,
  .32,.32,.32,.33,.33,.33,.34,.34,.34,.35,.35,.35,.36,.36,.36,.37,.37,.38,.38,.38,
  .38,.39,.39,.4,.4,.4,.41,.41,.42,.42,.42,.43,.43,.44,.44,.45,.45,.45,.46,.46,
  .46];
const fit372 = [0,-.01,-.02,-.03,-.04,-.06,-.13,-.37,-.54,-.54,-.5,-.44,-.37,-.31,-.27,-.25,-.24,-.24,-.24,-.24];

// L* = 3.59
const lg359 = [
  .01,.02,0,.01,.03,.01,0,.01,.02,0,.01,.02,.01,0,.01,.02,0,.01,.02,.01,
  0,.01,.02,.01,0,.01,.02,.01,0,.02,.01,0,.01,.02,.01,0,.02,.01,0,.01,
  .02,.01,0,.01,.02,.01,0,.01,-.02,-.01,.01,0,.02,-.01,.01,-.06,-.09,-.14,-.18,-.28,
  -.42,-.46,-.37,-.42,-.41,-.37,-.42,-.41,-.51,-.3,-.22,-.37,-.38,-.37,-.3,-.38,-.33,-.31,-.31,-.33,
  -.35,-.28,-.31,-.25,-.28,-.2,-.28,-.24,-.28,-.24,-.22,-.2,-.2,-.22,-.25,-.37,-.28,-.24,-.25,-.22,
  -.24,-.25,-.31,-.28,-.3,-.3,-.17,-.22,-.3,-.28,-.25,-.3,-.28,-.25,-.3,-.24,-.2,-.28,-.24,-.2,
  -.25];
const er359 = [
  .04,.04,.04,.05,.04,.04,.04,.04,.05,.04,.04,.04,.04,.05,.04,.04,.04,.04,.05,.04,
  .04,.04,.05,.04,.04,.04,.04,.05,.04,.04,.04,.05,.04,.04,.04,.04,.05,.04,.04,.04,
  .05,.04,.05,.05,.05,.05,.05,.06,.06,.06,.06,.07,.07,.08,.08,.08,.1,.12,.15,.2,
  .24,.25,.25,.26,.26,.27,.27,.28,.28,.28,.3,.3,.3,.3,.32,.32,.32,.33,.33,.34,
  .34,.34,.35,.35,.35,.36,.36,.36,.37,.37,.37,.38,.38,.38,.38,.39,.39,.4,.4,.4,
  .4,.4,.41,.41,.42,.42,.42,.43,.43,.44,.44,.44,.45,.45,.45,.45,.45,.45,.45,.45,
  .45];
const fit359 = [0,-.01,-.02,-.03,-.04,-.06,-.13,-.27,-.37,-.39,-.39,-.37,-.33,-.29,-.26,-.25,-.24,-.24,-.24,-.25];

const logFlux = [lg558, lg544, lg531, lg518, lg505, lg491, lg478, lg465, lg452, lg438, lg425, lg412, lg398, lg385, lg372, lg359];
const logErr  = [er558, er544, er531, er518, er505, er491, er478, er465, er452, er438, er425, er412, er398, er385, er372, er359];
const fitLog  = [fit558, fit544, fit531, fit518, fit505, fit491, fit478, fit465, fit452, fit438, fit425, fit412, fit398, fit385, fit372, fit359];

const xTickVals = [-3, -2, -1, 0, 1, 2, 3];
const yDecades = [-3, -2, -1, 0, 1];

logFlux.forEach((a, k) => {
  if (a.length !== days.length || logErr[k].length !== days.length || fitLog[k].length !== fitDays.length)
    throw new Error('series length mismatch in panel L*=' + lstar[k]);
});

// ---- styling ----
const FONT = '"DejaVu Sans", "Liberation Sans", sans-serif';
const INK = '#262626';
const GRID = '#b8b8b8';
const ERR_COLOR = 'rgba(120,120,120,0.62)';
const FIT_COLOR = '#ff0000';
const DOT_COLOR = '#1a1a1a';
const TEXT_SIZE = 15, TICK_SIZE = 14, SUP_SIZE = 10, SUB_SIZE = 10.5;
const CAP = 3.3;

// ---- grid geometry (page pixels) ----
const AREA_LEFT = [71, 567], AREA_RIGHT = [548, 1043];
const CANVAS_LEFT = [0, 540], CANVAS_RIGHT = [560, 1048];
const AREA_TOP0 = 9.3, ROW_STEP = 190.9, AREA_H = 183;
const PAD_TOP = 12, PAD_BOTTOM = 12, LAST_BOTTOM = 47;

function drawPower(ctx, exp, xRight, y) {
  const expTxt = exp < 0 ? '\u2212' + (-exp) : String(exp);
  ctx.font = `${SUP_SIZE}px ${FONT}`;
  const wE = ctx.measureText(expTxt).width;
  ctx.font = `${TICK_SIZE}px ${FONT}`;
  const wB = ctx.measureText('10').width;
  const base = y + TICK_SIZE * 0.36;
  ctx.textAlign = 'left';
  ctx.textBaseline = 'alphabetic';
  ctx.fillText('10', xRight - wE - wB, base);
  ctx.font = `${SUP_SIZE}px ${FONT}`;
  ctx.fillText(expTxt, xRight - wE, base - TICK_SIZE * 0.45);
}

function drawSigma(ctx, idx, value, x, y, alignRight) {
  const ital = `italic ${TEXT_SIZE}px ${FONT}`, main = `${TEXT_SIZE}px ${FONT}`, sub = `${SUB_SIZE}px ${FONT}`;
  const rest = '=' + value;
  ctx.font = ital; const w1 = ctx.measureText('\u03c3').width;
  ctx.font = sub;  const w2 = ctx.measureText(idx).width;
  ctx.font = main; const w3 = ctx.measureText(rest).width;
  const x0 = alignRight ? x - (w1 + w2 + w3) : x;
  ctx.fillStyle = FIT_COLOR;
  ctx.textAlign = 'left';
  ctx.textBaseline = 'alphabetic';
  ctx.font = ital; ctx.fillText('\u03c3', x0, y);
  ctx.font = sub;  ctx.fillText(idx, x0 + w1 + 0.5, y + 3.5);
  ctx.font = main; ctx.fillText(rest, x0 + w1 + w2 + 0.5, y);
}

function makePanel(k) {
  const col = k < 8 ? 0 : 1, row = k % 8, last = row === 7;
  const areaTop = Math.round(AREA_TOP0 + ROW_STEP * row);
  const cLeft = CANVAS_LEFT[col], cW = CANVAS_RIGHT[col] - cLeft;
  const bottomSpace = last ? LAST_BOTTOM : PAD_BOTTOM;
  const cTop = areaTop - PAD_TOP, cH = PAD_TOP + AREA_H + bottomSpace;

  const cv = document.createElement('canvas');
  cv.width = cW; cv.height = cH;
  cv.style.left = cLeft + 'px'; cv.style.top = cTop + 'px';
  cv.style.width = cW + 'px'; cv.style.height = cH + 'px';
  document.body.appendChild(cv);

  const lg = logFlux[k], er = logErr[k], fit = fitLog[k];

  const decorations = {
    id: 'panelDecorations',
    beforeDatasetsDraw(chart) {
      // symmetric (in log space) error bars with caps
      const { ctx, chartArea: a, scales: { x: xs, y: ys } } = chart;
      ctx.save();
      ctx.beginPath();
      ctx.rect(a.left, a.top, a.right - a.left, a.bottom - a.top);
      ctx.clip();
      ctx.strokeStyle = ERR_COLOR;
      ctx.lineWidth = 1.3;
      for (let i = 0; i < days.length; i++) {
        const x = xs.getPixelForValue(days[i]);
        const yHi = ys.getPixelForValue(Math.pow(10, lg[i] + er[i]));
        const yLo = ys.getPixelForValue(Math.pow(10, lg[i] - er[i]));
        ctx.beginPath();
        ctx.moveTo(x, yHi); ctx.lineTo(x, yLo);
        ctx.moveTo(x - CAP, yHi); ctx.lineTo(x + CAP, yHi);
        ctx.moveTo(x - CAP, yLo); ctx.lineTo(x + CAP, yLo);
        ctx.stroke();
      }
      ctx.restore();
    },
    afterDatasetsDraw(chart) {
      const { ctx, chartArea: a, scales: { y: ys } } = chart;
      ctx.save();

      // frame
      ctx.strokeStyle = INK;
      ctx.lineWidth = 1.2;
      ctx.strokeRect(a.left, a.top, a.right - a.left, a.bottom - a.top);

      // minor log ticks on the left spine
      ctx.lineWidth = 1;
      ctx.beginPath();
      for (let n = -3; n < 1; n++) {
        for (let m = 2; m <= 9; m++) {
          const y = Math.round(ys.getPixelForValue(m * Math.pow(10, n))) + 0.5;
          ctx.moveTo(a.left - 3, y); ctx.lineTo(a.left, y);
        }
      }
      ctx.stroke();

      // decade labels and axis title on the left column
      if (col === 0) {
        ctx.fillStyle = INK;
        yDecades.forEach(e => drawPower(ctx, e, a.left - 6.5, ys.getPixelForValue(Math.pow(10, e))));
        ctx.save();
        ctx.translate(24.5 - cLeft, (a.top + a.bottom) / 2);
        ctx.rotate(-Math.PI / 2);
        ctx.font = `${TEXT_SIZE}px ${FONT}`;
        const wM = ctx.measureText('Flux / Flux').width;
        ctx.font = `italic ${SUB_SIZE}px ${FONT}`;
        const wS = ctx.measureText('initial').width;
        const x0 = -(wM + wS) / 2;
        ctx.textAlign = 'left';
        ctx.textBaseline = 'alphabetic';
        ctx.font = `${TEXT_SIZE}px ${FONT}`;
        ctx.fillText('Flux / Flux', x0, 0);
        ctx.font = `italic ${SUB_SIZE}px ${FONT}`;
        ctx.fillText('initial', x0 + wM + 0.5, 3.5);
        ctx.restore();
      }

      // fit widths
      drawSigma(ctx, '1', sigma1[k], a.left + 16.5, a.top + 134.7, false);
      drawSigma(ctx, '2', sigma2[k], a.right - 17.5, a.top + 134.7, true);

      // legend box
      const bx = a.left + 8.5, by = a.top + 150, bw = 251.5, bh = 26.5;
      ctx.beginPath();
      ctx.roundRect(bx, by, bw, bh, 3.5);
      ctx.fillStyle = 'rgba(255,255,255,0.8)';
      ctx.fill();
      ctx.strokeStyle = '#cccccc';
      ctx.lineWidth = 1;
      ctx.stroke();
      const mx = a.left + 29, my = a.top + 162.8;
      ctx.strokeStyle = ERR_COLOR;
      ctx.lineWidth = 1.3;
      ctx.beginPath();
      ctx.moveTo(mx, my - 8); ctx.lineTo(mx, my + 8);
      ctx.moveTo(mx - CAP, my - 8); ctx.lineTo(mx + CAP, my - 8);
      ctx.moveTo(mx - CAP, my + 8); ctx.lineTo(mx + CAP, my + 8);
      ctx.stroke();
      ctx.fillStyle = DOT_COLOR;
      ctx.beginPath();
      ctx.arc(mx, my, 2.5, 0, Math.PI * 2);
      ctx.fill();
      ctx.fillStyle = INK;
      ctx.font = `${TEXT_SIZE}px ${FONT}`;
      ctx.textAlign = 'left';
      ctx.textBaseline = 'alphabetic';
      ctx.fillText(`L*=${lstar[k]}\u00b10.07 E=2.6 MeV`, a.left + 56.5, a.top + 167);

      // x-axis title under the bottom row
      if (last) {
        ctx.fillStyle = INK;
        ctx.font = `${TEXT_SIZE}px ${FONT}`;
        ctx.textAlign = 'center';
        ctx.fillText('Time since epoch, days', (a.left + a.right) / 2, a.bottom + 37.5);
      }
      ctx.restore();
    }
  };

  new Chart(cv, {
    type: 'scatter',
    data: {
      datasets: [
        {
          type: 'line',
          data: fitDays.map((d, j) => ({ x: d, y: Math.pow(10, fit[j]) })),
          borderColor: FIT_COLOR,
          borderWidth: 1.7,
          pointRadius: 0,
          cubicInterpolationMode: 'monotone',
          fill: false,
          order: 0
        },
        {
          type: 'scatter',
          data: days.map((d, i) => ({ x: d, y: Math.pow(10, lg[i]) })),
          pointRadius: 2.5,
          pointBackgroundColor: DOT_COLOR,
          pointBorderWidth: 0,
          order: 1
        }
      ]
    },
    options: {
      responsive: false,
      animation: false,
      devicePixelRatio: 1,
      events: [],
      layout: { padding: { top: PAD_TOP, left: 0, right: CANVAS_RIGHT[col] - AREA_RIGHT[col], bottom: 0 } },
      plugins: { legend: { display: false }, tooltip: { enabled: false } },
      scales: {
        x: {
          type: 'linear',
          min: -3, max: 3,
          offset: false,
          afterBuildTicks: s => { s.ticks = xTickVals.map(v => ({ value: v })); },
          afterFit: s => { s.height = bottomSpace; },
          ticks: {
            display: last,
            autoSkip: false,
            maxRotation: 0,
            padding: 1,
            color: INK,
            font: { family: FONT, size: TICK_SIZE },
            callback: v => String(v).replace('-', '\u2212')
          },
          grid: { color: GRID, lineWidth: 1, drawTicks: true, tickLength: 5, tickColor: INK, tickWidth: 1.2 },
          border: { display: false }
        },
        y: {
          type: 'logarithmic',
          min: 1e-3, max: 10,
          afterBuildTicks: s => { s.ticks = yDecades.map(e => ({ value: Math.pow(10, e) })); },
          afterFit: s => { s.width = AREA_LEFT[col] - cLeft; },
          ticks: { display: false },
          grid: { color: GRID, lineWidth: 1, drawTicks: true, tickLength: 5, tickColor: INK, tickWidth: 1.2 },
          border: { display: false }
        }
      }
    },
    plugins: [decorations]
  });
}

for (let k = 0; k < 16; k++) makePanel(k);
</script>
</body>
</html>
